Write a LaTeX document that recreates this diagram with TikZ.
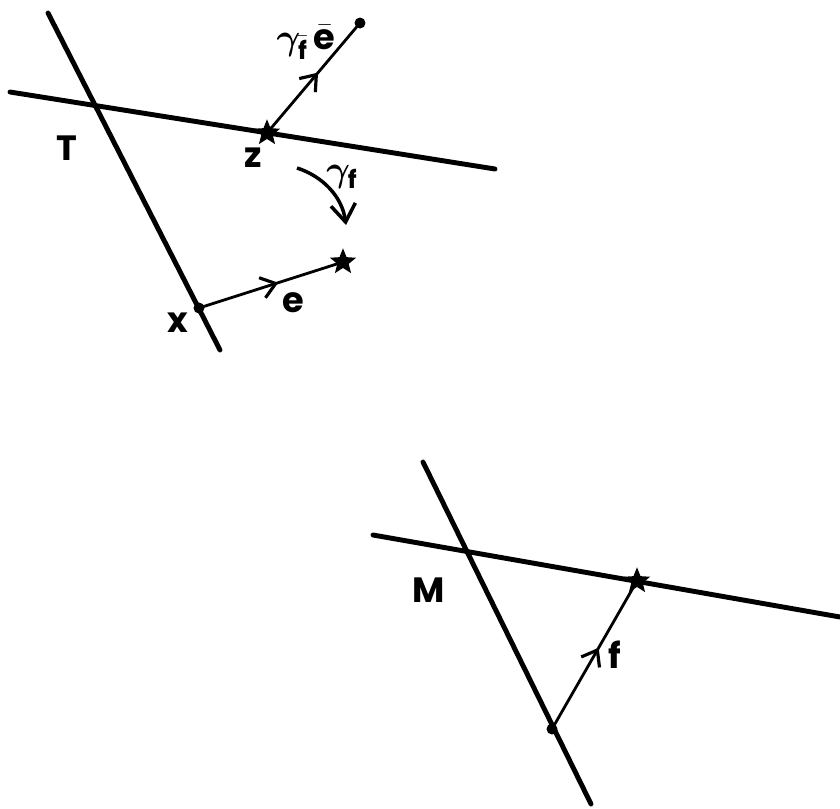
\documentclass[tikz,border=0pt]{standalone}
\usepackage{amsmath}
\usepackage{bm}
\usepackage{fontspec}
\setmainfont{Poppins}
\usetikzlibrary{arrows.meta, decorations.markings, shapes.geometric}

\begin{document}
\begin{tikzpicture}[
    x=0.02cm, y=-0.02cm,
    every node/.style={font=\fontsize{20}{24}\selectfont\bfseries},
    axisline/.style={line width=2.8pt, line cap=round},
    vec/.style={line width=1.6pt, decoration={markings,
                mark=at position 0.55 with {\arrow{Straight Barb[length=8pt,width=12pt,line width=1.8pt]}}},
                postaction={decorate}},
    turn/.style={-{Straight Barb[length=10pt,width=14pt,line width=2pt]}, line width=2pt},
    starpt/.style={star, star points=5, star point ratio=2.3, fill=black, inner sep=0pt, minimum size=0.55cm},
    dotpt/.style={circle, fill=black, inner sep=0pt, minimum size=0.22cm},
    lbl/.style={inner sep=1pt},
]
\useasboundingbox (0,0) rectangle (840,809);
% upper figure: T
\coordinate (top_l) at (10,92);
\coordinate (top_r) at (495,169);
\coordinate (top_u) at (48,13);
\coordinate (top_d) at (220,350);
\coordinate (rot_s) at (297,168);
\coordinate (rot_e) at (346,225);
\draw[axisline] (top_l) -- (top_r);
\draw[axisline] (top_u) -- (top_d);
\node[starpt] (star_z) at (267,133) {};
\node[dotpt] (dot_tip) at (360,23) {};
\node[dotpt] (dot_x) at (199,308) {};
\node[starpt] (star_e) at (343,262) {};
\draw[vec] (star_z.center) -- (dot_tip.center);
\draw[vec] (dot_x.center) -- (star_e.center);
\draw[turn] (rot_s) .. controls (322,176) and (342,196) .. (rot_e);
\node[lbl] (lbl_T) at (67,148) {T};
\node[lbl] (lbl_z) at (253,158) {z};
\node[lbl] (lbl_x) at (178,323) {x};
\node[lbl] (lbl_e) at (293,303) {e};
\node[lbl] (lbl_ge) at (306,42) {$\bm{\gamma}_{\bar{\mathbf{f}}}\,\bar{\mathbf{e}}$};
\node[lbl] (lbl_gf) at (342,177) {$\bm{\gamma}_{\mathbf{f}}$};
% lower figure: M
\coordinate (bot_l) at (373,535);
\coordinate (bot_r) at (840,617);
\coordinate (bot_u) at (423,462);
\coordinate (bot_d) at (591,804);
\draw[axisline] (bot_l) -- (bot_r);
\draw[axisline] (bot_u) -- (bot_d);
\node[starpt] (star_f) at (637,581) {};
\node[dotpt] (dot_m) at (552,729) {};
\draw[vec] (dot_m.center) -- (star_f.center);
\node[lbl] (lbl_M) at (429,590) {M};
\node[lbl] (lbl_f) at (615,655) {f};
\end{tikzpicture}
\end{document}
